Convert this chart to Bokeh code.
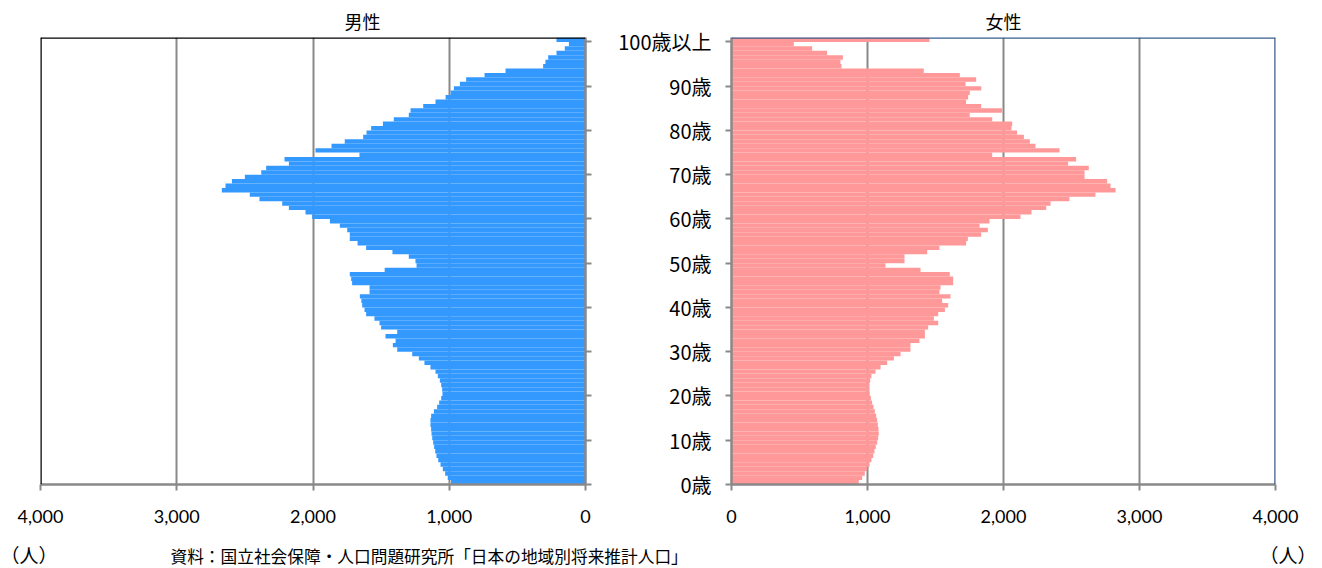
from bokeh.plotting import figure
from bokeh.models import Range1d, FixedTicker, Span, Label, Title, NumeralTickFormatter
from bokeh.layouts import row, column
from bokeh.embed import file_html
from bokeh.resources import INLINE

# ---------------- data ----------------
ages = list(range(101))  # 100 = 100歳以上

male = [
    987, 1011, 1030, 1047, 1064, 1081, 1094, 1103, 1111, 1118,
    1125, 1130, 1133, 1138, 1138, 1133, 1113, 1089, 1074, 1059,
    1050, 1052, 1059, 1069, 1084, 1101, 1138, 1182, 1223, 1272,
    1382, 1414, 1394, 1468, 1382, 1500, 1512, 1549, 1610, 1622,
    1639, 1645, 1656, 1585, 1585, 1713, 1720, 1730, 1474, 1240,
    1248, 1297, 1417, 1610, 1673, 1730, 1730, 1749, 1803, 1876,
    2006, 2055, 2177, 2226, 2393, 2464, 2669, 2642, 2595, 2500,
    2380, 2344, 2177, 2209, 1659, 1982, 1864, 1767, 1632, 1607,
    1573, 1487, 1407, 1297, 1284, 1191, 1101, 1027, 990, 966,
    922, 876, 741, 587, 311, 294, 274, 213, 152, 122,
    213,
]

female = [
    936, 961, 980, 998, 1015, 1029, 1042, 1051, 1061, 1071,
    1078, 1083, 1081, 1076, 1071, 1064, 1054, 1044, 1034, 1025,
    1017, 1015, 1015, 1020, 1029, 1059, 1096, 1145, 1194, 1243,
    1316, 1316, 1382, 1422, 1422, 1446, 1520, 1488, 1520, 1569,
    1593, 1549, 1610, 1529, 1537, 1630, 1630, 1605, 1390, 1132,
    1272, 1272, 1439, 1529, 1725, 1738, 1836, 1885, 1824, 1897,
    2125, 2206, 2314, 2346, 2485, 2676, 2824, 2787, 2762, 2596,
    2596, 2627, 2475, 2534, 1917, 2412, 2235, 2194, 2150, 2100,
    2059, 2064, 1917, 1752, 1990, 1836, 1725, 1740, 1752, 1836,
    1721, 1799, 1679, 1414, 809, 801, 819, 703, 593, 458,
    1456,
]

x_ticks = [0, 1000, 2000, 3000, 4000]
age_tick_ages = [0, 10, 20, 30, 40, 50, 60, 70, 80, 90, 100]
age_tick_labels = ["0歳", "10歳", "20歳", "30歳", "40歳", "50歳",
                   "60歳", "70歳", "80歳", "90歳", "100歳以上"]
panel_titles = ["男性", "女性"]
unit_text = "（人）"
source_text = "資料：国立社会保障・人口問題研究所「日本の地域別将来推計人口」"

# ---------------- style ----------------
MALE_COLOR = "#3399FF"
FEMALE_COLOR = "#FF9999"
GRID = "#898989"
BLUE_FRAME = "#3B5E8C"
CJK = "Noto Sans CJK JP"
NUM = "Lato"
FS = "18px"

TOP = 37
FRAME_H = 447
BOTTOM = 52
H = TOP + FRAME_H + BOTTOM
FOOT_H = 32

age_tick_pos = [a - 0.5 for a in age_tick_ages]
age_overrides = {p: t for p, t in zip(age_tick_pos, age_tick_labels)}


def style_common(p):
    p.outline_line_color = None
    p.ygrid.visible = False
    p.xgrid.ticker = FixedTicker(ticks=x_ticks)
    p.xgrid.grid_line_color = GRID
    p.xgrid.grid_line_width = 2
    ax = p.xaxis[0]
    ax.ticker = FixedTicker(ticks=x_ticks)
    ax.formatter = NumeralTickFormatter(format="0,0")
    ax.axis_line_color = GRID
    ax.axis_line_width = 2.5
    ax.major_tick_line_color = GRID
    ax.major_tick_line_width = 2
    ax.major_tick_out = 6
    ax.major_tick_in = 0
    ax.minor_tick_line_color = None
    ax.major_label_standoff = 19
    ax.major_label_text_font = NUM
    ax.major_label_text_font_size = FS
    ax.major_label_text_color = "#000000"
    ay = p.yaxis[0]
    ay.ticker = FixedTicker(ticks=age_tick_pos)
    ay.axis_line_color = GRID
    ay.axis_line_width = 2.5
    ay.major_tick_line_color = GRID
    ay.major_tick_line_width = 2
    ay.major_tick_out = 6
    ay.major_tick_in = 0
    ay.minor_tick_line_color = None


def make_title(text, **kw):
    return Title(text=text, text_font=CJK, text_font_size=FS, text_font_style="normal",
                 text_color="#000000", standoff=8, **kw)


# ---------------- male (left) ----------------
pL = figure(width=615, height=H, x_range=Range1d(4000, 0),
            y_range=Range1d(-0.5, 100.5), y_axis_location="right",
            output_backend="svg", toolbar_location=None,
            min_border_left=40, min_border_right=30,
            min_border_top=TOP, min_border_bottom=BOTTOM)
pL.hbar(y=ages, left=0, right=male, height=1.0,
        fill_color=MALE_COLOR, line_color=None)
style_common(pL)
pL.yaxis[0].major_label_overrides = {p: "" for p in age_tick_pos}
pL.add_layout(Span(location=4000, dimension="height", line_color="black", line_width=2.5))
pL.add_layout(Span(location=100.5, dimension="width", line_color="black", line_width=2.5))
pL.add_layout(make_title(panel_titles[0], align="left", offset=304), "above")

# ---------------- female (right) ----------------
pR = figure(width=705, height=H, x_range=Range1d(0, 4000),
            y_range=Range1d(-0.5, 100.5), y_axis_location="left",
            output_backend="svg", toolbar_location=None,
            min_border_left=116, min_border_right=45,
            min_border_top=TOP, min_border_bottom=BOTTOM)
pR.hbar(y=ages, left=0, right=female, height=1.0,
        fill_color=FEMALE_COLOR, line_color=None)
style_common(pR)
ayR = pR.yaxis[0]
ayR.major_label_overrides = age_overrides
ayR.major_label_standoff = 14
ayR.major_label_text_font = CJK
ayR.major_label_text_font_size = "20px"
ayR.major_label_text_color = "#000000"
pR.add_layout(Span(location=4000, dimension="height", line_color=BLUE_FRAME, line_width=2.5))
pR.add_layout(Span(location=100.5, dimension="width", line_color=BLUE_FRAME, line_width=2.5))
pR.add_layout(make_title(panel_titles[1], align="center"), "above")

# ---------------- footer (units + source) ----------------
pF = figure(width=1320, height=FOOT_H, x_range=Range1d(0, 1320), y_range=Range1d(0, FOOT_H),
            x_axis_location=None, y_axis_location=None,
            output_backend="svg", toolbar_location=None, min_border=0)
pF.outline_line_color = None
pF.grid.visible = False
pF.add_layout(Label(x=0, y=FOOT_H - 18, x_units="screen", y_units="screen",
                    text=unit_text, text_align="left", text_baseline="middle",
                    text_font=CJK, text_font_size="19px", text_color="#000000"))
pF.add_layout(Label(x=170, y=FOOT_H - 19, x_units="screen", y_units="screen",
                    text=source_text, text_align="left", text_baseline="middle",
                    text_font=CJK, text_font_size="16.7px", text_color="#000000"))
pF.add_layout(Label(x=1316, y=FOOT_H - 18, x_units="screen", y_units="screen",
                    text=unit_text, text_align="right", text_baseline="middle",
                    text_font=CJK, text_font_size="19px", text_color="#000000"))

layout = column(row(pL, pR, spacing=0), pF, spacing=0)
open("out.html", "w").write(file_html(layout, INLINE))
